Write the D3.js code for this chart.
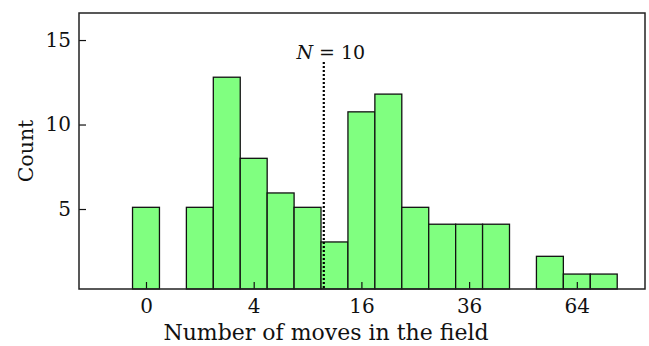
<!DOCTYPE html>
<html>
<head>
<meta charset="utf-8">
<script src="https://cdn.jsdelivr.net/npm/d3@7"></script>
<style>
  html, body { margin: 0; padding: 0; background: #fff; }
  svg { display: block; }
  text { font-family: "DejaVu Serif", "Liberation Serif", serif; fill: #111; }
</style>
</head>
<body>
<svg id="chart" width="649" height="346"></svg>
<script>
// Bin centers on the square-root axis (√ of number of moves)
const binCenters = [0, 1, 1.5, 2, 2.5, 3, 3.5, 4, 4.5, 5, 5.5, 6, 6.5, 7.5, 8, 8.5];
const counts     = [5.1, 5.1, 12.8, 8.0, 5.95, 5.1, 3.05, 10.75, 11.8, 5.1, 4.1, 4.1, 4.1, 2.2, 1.15, 1.15];
const binWidth = 0.5;
const xTickLabels = [0, 4, 16, 36, 64];
const yTickLabels = [5, 10, 15];
const markerLabel = "N = 10";
const markerValue = 10.9;   // position of dotted line (number of moves)
const markerTop = 13.7;     // count at which the dotted line starts

(function () {
const svg = d3.select("#chart");
const mLeft = 79, mRight = 645, mTop = 13, mBottom = 289;

const x = d3.scaleLinear().domain([-1.244, 9.266]).range([mLeft, mRight]);
const y = d3.scaleLinear().domain([0.266, 16.6]).range([mBottom, mTop]);

// bars
svg.append("g").selectAll("rect")
  .data(binCenters.map((c, i) => ({c, v: counts[i]})))
  .join("rect")
  .attr("x", d => x(d.c - binWidth / 2))
  .attr("width", d => x(d.c + binWidth / 2) - x(d.c - binWidth / 2))
  .attr("y", d => y(d.v))
  .attr("height", d => y(y.domain()[0]) - y(d.v))
  .attr("fill", "#80ff80")
  .attr("stroke", "#111")
  .attr("stroke-width", 1.3);

// x axis: ticks inward
const xAxis = d3.axisBottom(x)
  .tickValues(xTickLabels.map(Math.sqrt))
  .tickFormat((d, i) => xTickLabels[i])
  .tickSizeInner(-7).tickSizeOuter(0).tickPadding(10);
const gx = svg.append("g").attr("transform", `translate(0,${mBottom})`).call(xAxis);
gx.select(".domain").remove();
gx.selectAll("line").attr("stroke", "#111").attr("stroke-width", 1.2);
gx.selectAll("text").attr("font-size", 20).attr("font-family", "DejaVu Serif").attr("fill", "#111");

const yAxis = d3.axisLeft(y)
  .tickValues(yTickLabels)
  .tickSizeInner(-7).tickSizeOuter(0).tickPadding(8);
const gy = svg.append("g").attr("transform", `translate(${mLeft},0)`).call(yAxis);
gy.select(".domain").remove();
gy.selectAll("line").attr("stroke", "#111").attr("stroke-width", 1.2);
gy.selectAll("text").attr("font-size", 20).attr("font-family", "DejaVu Serif").attr("fill", "#111");

// frame
svg.append("rect")
  .attr("x", mLeft).attr("y", mTop)
  .attr("width", mRight - mLeft).attr("height", mBottom - mTop)
  .attr("fill", "none").attr("stroke", "#222").attr("stroke-width", 1.5);

// dotted marker line
const mx = x(Math.sqrt(markerValue));
svg.append("line")
  .attr("x1", mx).attr("x2", mx)
  .attr("y1", y(markerTop)).attr("y2", mBottom)
  .attr("stroke", "#000").attr("stroke-width", 2.2)
  .attr("stroke-dasharray", "2,2");

const lab = svg.append("text")
  .attr("x", mx + 7).attr("y", 59)
  .attr("text-anchor", "middle")
  .attr("font-size", 19);
lab.append("tspan").attr("font-style", "italic").text(markerLabel.split(" ")[0]);
lab.append("tspan").text(" " + markerLabel.split(" ").slice(1).join(" "));

// axis titles
svg.append("text")
  .attr("x", 326).attr("y", 340)
  .attr("text-anchor", "middle")
  .attr("font-size", 22)
  .text("Number of moves in the field");

svg.append("text")
  .attr("transform", "translate(33,151) rotate(-90)")
  .attr("text-anchor", "middle")
  .attr("font-size", 20.5)
  .text("Count");
})();
</script>
</body>
</html>
